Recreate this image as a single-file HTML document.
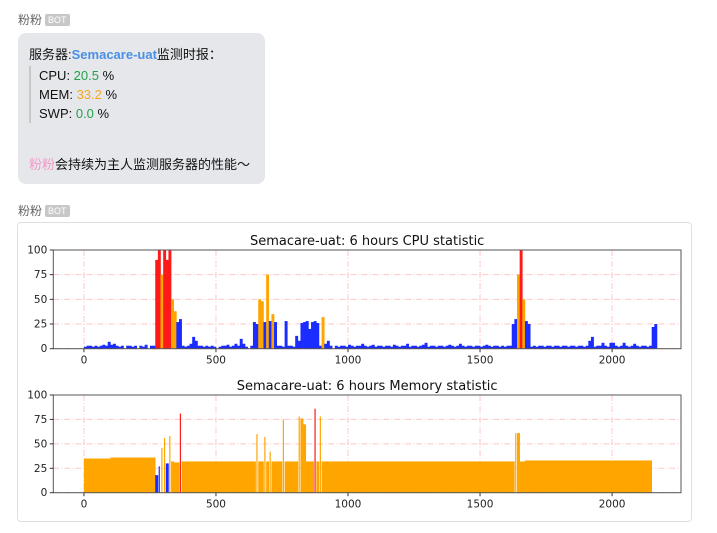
<!DOCTYPE html>
<html><head><meta charset="utf-8">
<style>
body{margin:0;width:717px;height:533px;background:#fff;position:relative;overflow:hidden;font-family:"Liberation Sans","Noto Sans CJK SC",sans-serif;}
.lbl{position:absolute;left:18px;font-size:12px;color:#666;}
.bot{display:inline-block;background:#c8c8c8;color:#fff;font-size:9px;padding:0 3px;border-radius:2px;margin-left:3px;vertical-align:1px;line-height:12px;}
.bubble{position:absolute;left:18px;top:33px;width:247px;height:151px;background:#e5e7eb;border-radius:8px;font-size:13px;color:#111;}
.card{position:absolute;left:17px;top:222px;width:673px;height:298px;border:1px solid #dcdfe3;border-radius:4px;}
</style></head><body>
<div class="lbl" style="top:11px">粉粉<span class="bot">BOT</span></div>
<div class="bubble">
 <div style="position:absolute;left:11px;top:11px">服务器:<b style="color:#4a90e2">Semacare-uat</b>监测时报：</div>
 <div style="position:absolute;left:11px;top:33px;height:57px;border-left:2px solid #c8c8c8;padding-left:8px;line-height:19px">
  <div>CPU: <span style="color:#22a04a">20.5</span> %</div>
  <div>MEM: <span style="color:#f5a623">33.2</span> %</div>
  <div>SWP: <span style="color:#22a04a">0.0</span> %</div>
 </div>
 <div style="position:absolute;left:11px;top:121px"><span style="color:#f59ac8">粉粉</span>会持续为主人监测服务器的性能～</div>
</div>
<div class="lbl" style="top:202px">粉粉<span class="bot">BOT</span></div>
<div class="card"></div>
<svg id="chart" width="717" height="533" style="position:absolute;left:0;top:0"></svg>
<script>
const binSize = 10;
const xTicks = [0, 500, 1000, 1500, 2000];
const yTicks = [0, 25, 50, 75, 100];
const cpuValues = [2,3,3,2,3,2,3,4,3,7,4,5,3,2,3,0,3,3,2,3,0,3,2,4,0,3,3,
90,100,75,100,90,100,50,38,27,30,3,2,3,5,12,8,3,3,2,3,2,3,2,0,2,3,3,4,2,3,5,3,10,5,2,0,3,
27,25,50,48,27,75,28,35,27,3,3,2,28,3,3,2,13,8,26,27,28,20,27,28,26,3,32,5,8,3,0,
3,2,3,3,2,4,3,2,3,3,5,3,2,3,4,2,3,3,2,3,3,2,4,3,2,3,3,5,2,3,3,2,3,4,6,2,3,3,2,3,3,2,3,4,3,2,3,5,3,2,3,3,2,3,3,2,3,4,3,2,3,3,2,3,2,3,3,
25,30,75,100,50,28,25,2,
3,2,3,3,2,3,3,2,3,3,2,3,3,2,3,3,2,3,3,2,3,8,12,2,3,3,6,3,2,6,6,3,2,3,6,3,2,3,5,3,2,3,3,2,3,22,25];
const memValues = [35,35,35,35,35,35,35,35,35,35,36,36,36,36,36,36,36,36,36,36,36,36,36,36,36,36,36,
18,27,46,56,30,58,32,31,31,81,32,32,32,32,32,32,32,32,32,32,32,32,32,32,32,32,32,32,32,32,32,32,32,32,32,32,32,32,
60,32,32,57,32,42,32,32,32,32,75,32,32,32,32,32,78,76,70,32,32,32,86,32,78,
32,32,32,32,32,32,32,32,32,32,32,32,32,32,32,32,32,32,32,32,32,32,32,32,32,32,32,32,32,32,32,32,32,32,32,32,32,32,32,32,32,32,32,32,32,32,32,32,32,32,32,32,32,32,32,32,32,32,32,32,32,32,32,32,32,32,32,32,32,32,32,32,32,
61,61,32,32,
33,33,33,33,33,33,33,33,33,33,33,33,33,33,33,33,33,33,33,33,33,33,33,33,33,33,33,33,33,33,33,33,33,33,33,33,33,33,33,33,33,33,33,33,33,33,33,33];
const NS='http://www.w3.org/2000/svg';
const svg=document.getElementById('chart');
function mk(tag,attrs,parent){const e=document.createElementNS(NS,tag);for(const k in attrs)e.setAttribute(k,attrs[k]);(parent||svg).appendChild(e);return e;}
const X0=53.3,X1=681,D0=-116,D1=2261;
const xs=v=>X0+(v-D0)/(D1-D0)*(X1-X0);
function colorOf(v){return v>80?'#ff1a1a':(v>30?'#ffa500':'#1a2cff');}
function drawPanel(name,title,vals,top,bot,thin){
  const g=mk('g',{});
  
  
  const ys=v=>bot-(v/100)*(bot-top);
  const t=mk('text',{x:(X0+X1)/2,y:top-5,'text-anchor':'middle','font-family':'DejaVu Sans, sans-serif','font-size':'13',fill:'#111'},g);
  t.textContent=title;
  
  
  xTicks.forEach(v=>{const l=mk('line',{x1:xs(v),x2:xs(v),y1:top,y2:bot,stroke:'rgba(255,0,0,0.22)','stroke-dasharray':'6,2,1,2','stroke-width':1},g);
    
    });
  yTicks.forEach(v=>{const l=mk('line',{x1:X0,x2:X1,y1:ys(v),y2:ys(v),stroke:'rgba(255,0,0,0.22)','stroke-dasharray':'6,2,1,2','stroke-width':1},g);
    
    });
  vals.forEach((v,i)=>{
    const x=xs(i*binSize),w=xs((i+1)*binSize)-x;
    const narrow=thin && i>0 && v>vals[i-1]+8;
    const r=mk('rect',{x:narrow?x+w*0.3:x,y:ys(v),width:narrow?w*0.45:w+0.3,height:bot-ys(v),fill:colorOf(v)},g);
    
    
  });
  const f=mk('rect',{x:X0,y:top,width:X1-X0,height:bot-top,fill:'none',stroke:'#555','stroke-width':1},g);
  
  
  xTicks.forEach(v=>{mk('line',{x1:xs(v),x2:xs(v),y1:bot,y2:bot+3.5,stroke:'#333'},g);
    const tx=mk('text',{x:xs(v),y:bot+15,'text-anchor':'middle','font-family':'DejaVu Sans, sans-serif','font-size':'10.5',fill:'#222'},g);
    tx.textContent=v;
    
    });
  yTicks.forEach(v=>{mk('line',{x1:X0-3.5,x2:X0,y1:ys(v),y2:ys(v),stroke:'#333'},g);
    const ty=mk('text',{x:X0-6,y:ys(v)+3.5,'text-anchor':'end','font-family':'DejaVu Sans, sans-serif','font-size':'10.5',fill:'#222'},g);
    ty.textContent=v;
    
    });
}
drawPanel('cpu-chart','Semacare-uat: 6 hours CPU statistic',cpuValues,250,348.7,false);
drawPanel('memory-chart','Semacare-uat: 6 hours Memory statistic',memValues,395,492.7,true);
</script>
</body></html>
